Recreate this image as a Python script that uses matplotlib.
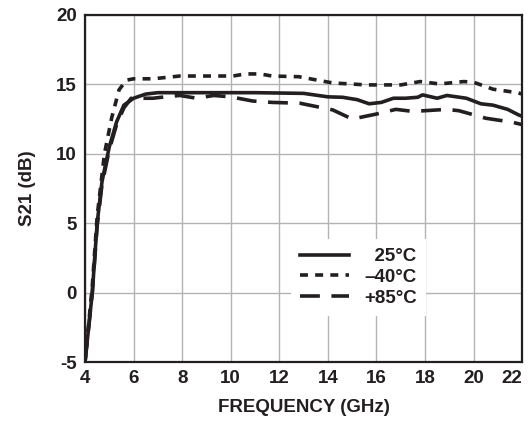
import matplotlib
matplotlib.use("Agg")
import matplotlib.pyplot as plt

# S21 vs frequency at three temperatures
freq_25 = [4.0, 4.3, 4.5, 4.7, 5.0, 5.3, 5.6, 6.0, 6.5, 7.0, 9.0, 11.0, 13.0, 14.0, 14.6,
           15.2, 15.7, 16.2, 16.7, 17.2, 17.7, 17.9, 18.5, 18.9, 19.7, 20.3, 20.8, 21.4, 21.85, 22.0]
s21_25 = [-5.0, 0.0, 5.0, 8.0, 10.5, 12.3, 13.5, 14.0, 14.3, 14.4, 14.4, 14.4, 14.35, 14.1, 14.07,
          13.9, 13.6, 13.7, 14.0, 14.0, 14.07, 14.24, 14.0, 14.2, 14.0, 13.6, 13.5, 13.2, 12.8, 12.7]

freq_m40 = [4.0, 4.3, 4.5, 4.8, 5.1, 5.4, 5.7, 6.0, 6.8, 7.9, 9.5, 10.1, 10.6, 11.2, 11.7,
            12.8, 14.2, 15.6, 17.0, 17.8, 18.6, 19.6, 20.0, 20.8, 21.8, 22.0]
s21_m40 = [-5.0, 0.5, 5.5, 10.0, 12.6, 14.6, 15.3, 15.4, 15.4, 15.6, 15.6, 15.6, 15.75, 15.75, 15.6,
           15.55, 15.1, 14.96, 14.96, 15.2, 15.03, 15.2, 15.15, 14.65, 14.4, 14.3]

freq_85 = [4.0, 4.3, 4.5, 4.7, 5.0, 5.3, 5.6, 5.9, 6.8, 7.3, 7.9, 8.6, 9.3, 10.0, 10.9,
           11.7, 12.85, 14.2, 15.0, 16.1, 16.8, 17.5, 18.9, 19.4, 20.5, 21.6, 22.0]
s21_85 = [-5.0, 0.0, 4.8, 7.8, 10.3, 12.1, 13.3, 14.0, 14.0, 14.1, 14.2, 14.0, 14.2, 14.1, 13.8,
          13.7, 13.64, 13.16, 12.5, 12.9, 13.2, 13.05, 13.2, 13.1, 12.56, 12.27, 12.1]

labels = ["  25\u00b0C", "\u201340\u00b0C", "+85\u00b0C"]
x_ticks = list(range(4, 23, 2))
y_ticks = list(range(-5, 21, 5))

plt.rcParams["font.family"] = ["Liberation Sans", "DejaVu Sans"]
plt.rcParams["font.weight"] = "bold"
plt.rcParams["axes.unicode_minus"] = False

fig = plt.figure(figsize=(5.28, 4.26), dpi=100)
ax = fig.add_axes([0.161, 0.150, 0.828, 0.815])

ax.plot(freq_25, s21_25, color="#231f20", lw=2.6, label=labels[0])
ax.plot(freq_m40, s21_m40, color="#231f20", lw=2.6, dashes=(2.2, 2.0), label=labels[1])
ax.plot(freq_85, s21_85, color="#231f20", lw=2.6, dashes=(5.5, 3.2), label=labels[2])

ax.set_xlim(4, 22)
ax.set_ylim(-5, 20)
ax.set_xticks(x_ticks)
ax.set_yticks(y_ticks)
ax.grid(True, color="#b3b3b3", lw=1.0)
ax.tick_params(length=0, labelsize=13.5, pad=6, colors="#231f20")
for lab in ax.get_xticklabels() + ax.get_yticklabels():
    lab.set_fontweight("bold")
ax.get_xticklabels()[-1].set_horizontalalignment("right")
for sp in ax.spines.values():
    sp.set_linewidth(1.6)
    sp.set_color("#231f20")

ax.set_xlabel("FREQUENCY (GHz)", fontsize=13.5, fontweight="bold", labelpad=8, color="#231f20")
ax.set_ylabel("S21 (dB)", fontsize=13.5, fontweight="bold", labelpad=14, color="#231f20")

leg = ax.legend(loc="lower left", bbox_to_anchor=(0.45, 0.105), frameon=True,
                fancybox=False, edgecolor="none", facecolor="white", framealpha=1,
                fontsize=13.5, handlelength=2.6, handletextpad=0.8,
                labelspacing=0.2, borderpad=0.5)
for t in leg.get_texts():
    t.set_fontweight("bold")
    t.set_color("#231f20")

fig.savefig("out.png", dpi=100)
